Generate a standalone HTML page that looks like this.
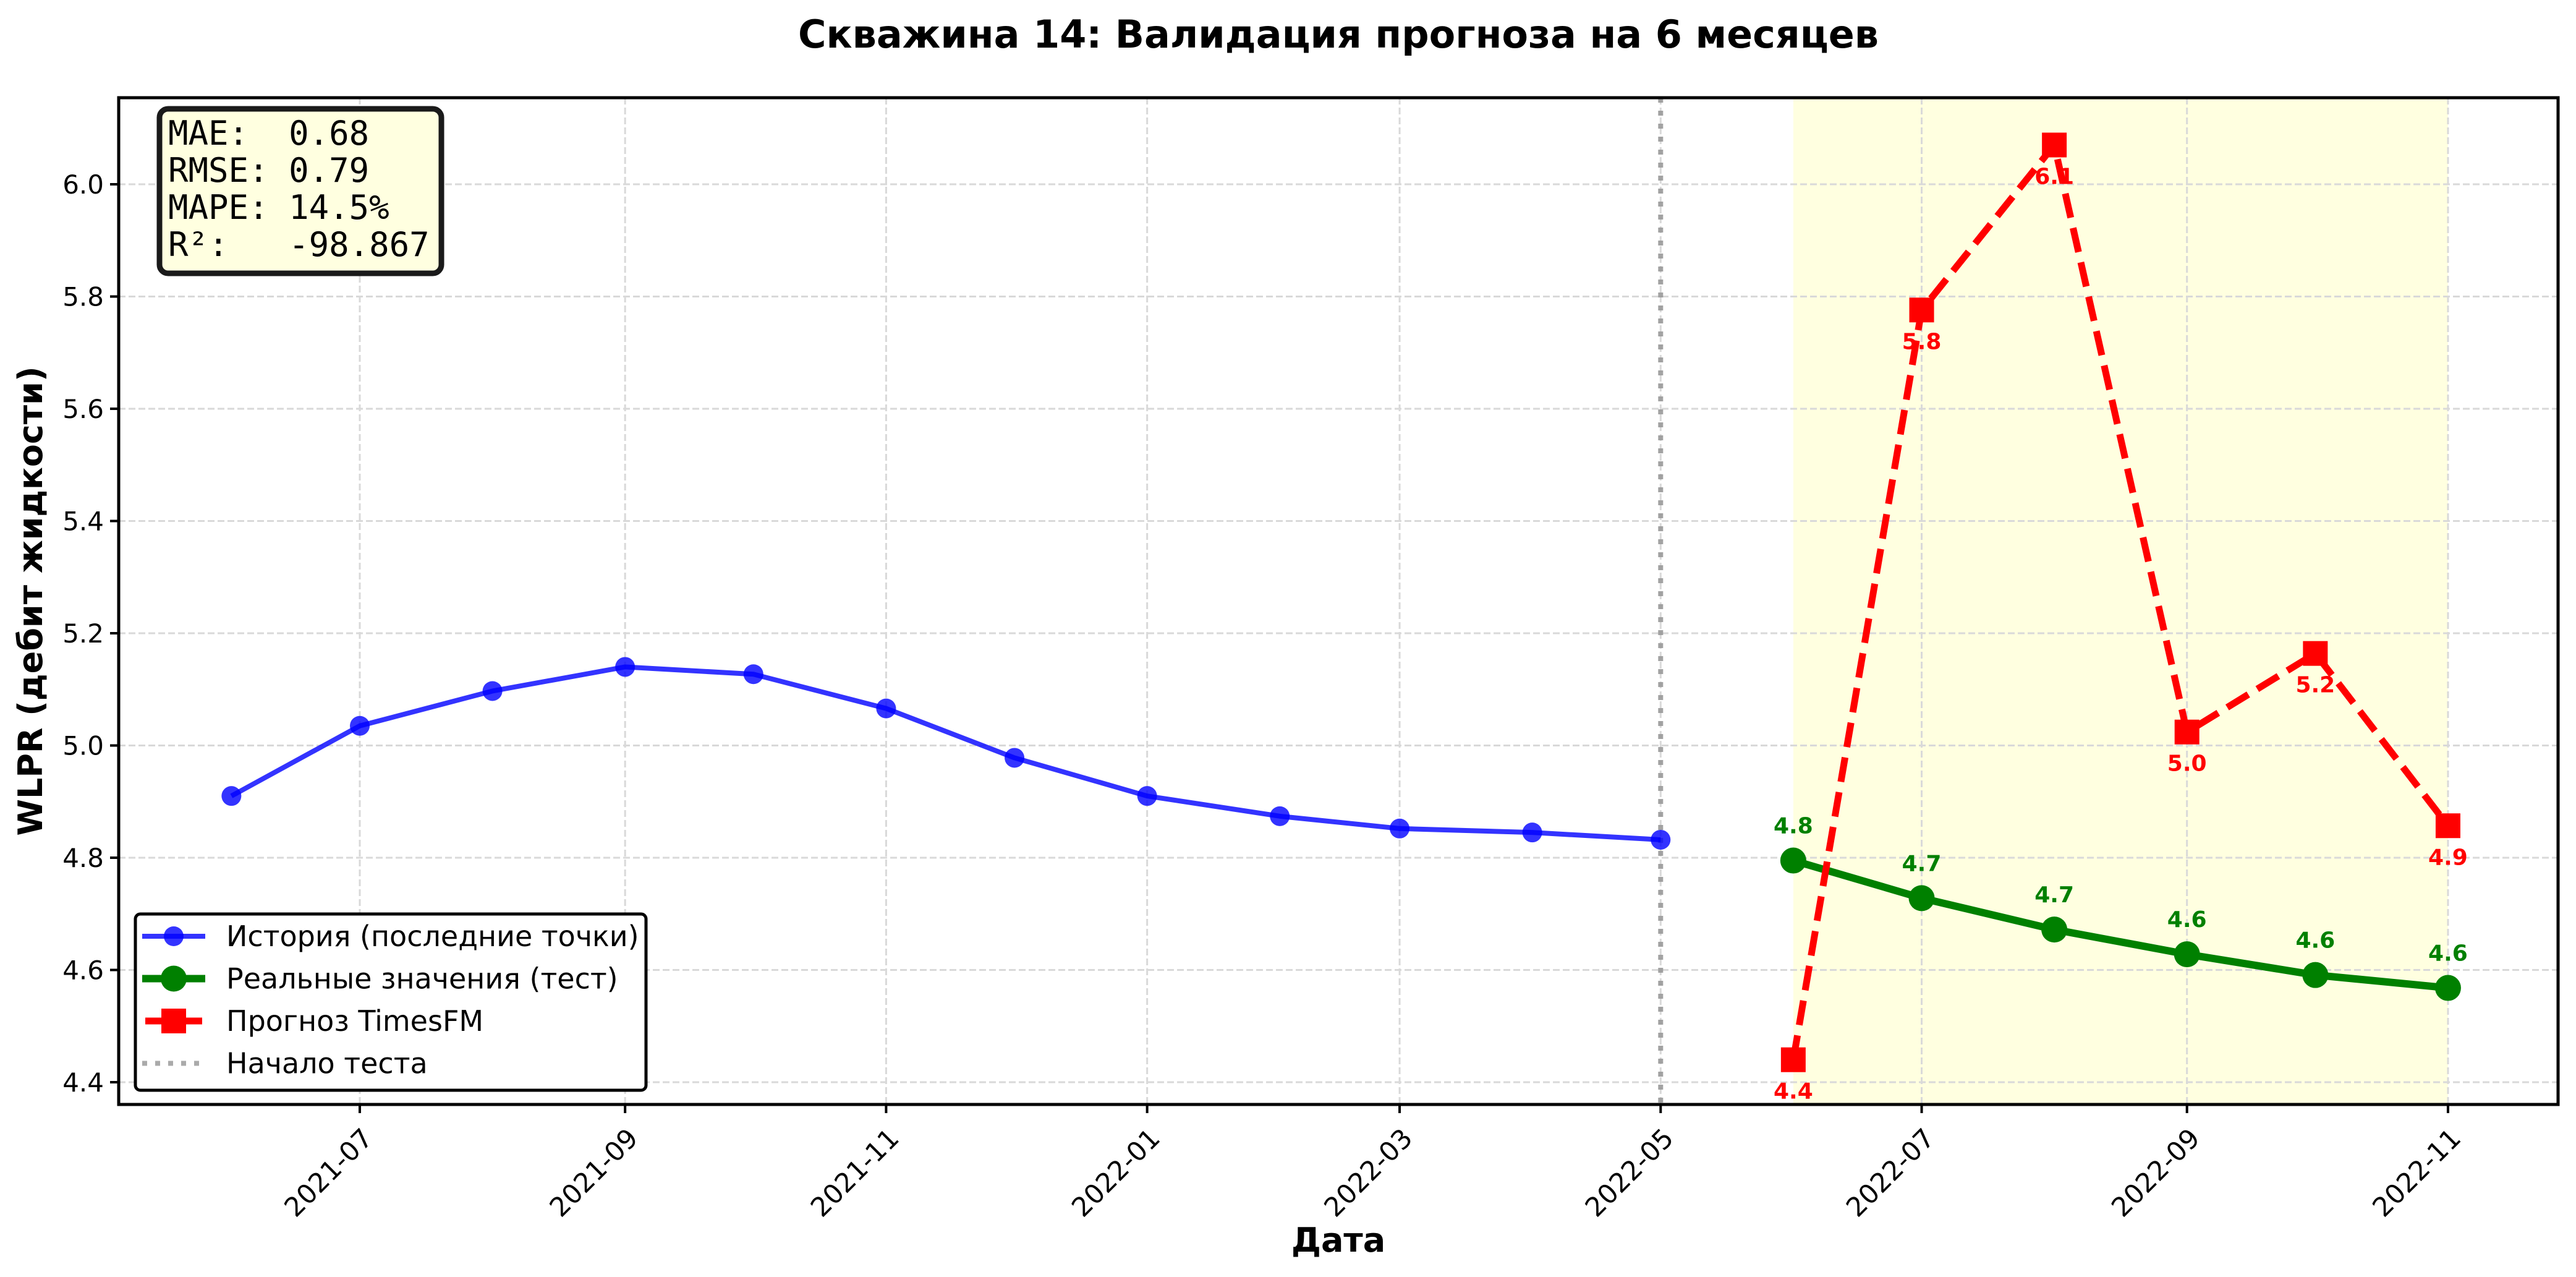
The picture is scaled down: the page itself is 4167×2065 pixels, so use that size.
<!DOCTYPE html>
<html><head><meta charset="utf-8">
<style>
html,body{margin:0;padding:0;background:#fff;}
svg{display:block;font-family:"DejaVu Sans","Liberation Sans",sans-serif;}
</style></head>
<body>
<svg id="chart" width="4167" height="2065" viewBox="0 0 4167 2065" xmlns="http://www.w3.org/2000/svg">
<rect width="4167" height="2065" fill="#fff"/>
<text x="2165" y="77" text-anchor="middle" font-size="62" font-weight="bold">Скважина 14: Валидация прогноза на 6 месяцев</text>
<g id="plot"></g>
<text x="2165" y="2024" text-anchor="middle" font-size="54" font-weight="bold">Дата</text>
<text transform="translate(68,972) rotate(-90)" text-anchor="middle" font-size="54" font-weight="bold">WLPR (дебит жидкости)</text>
</svg>
<script>
const histDates = ["2021-06-01","2021-07-01","2021-08-01","2021-09-01","2021-10-01","2021-11-01","2021-12-01","2022-01-01","2022-02-01","2022-03-01","2022-04-01","2022-05-01"];
const histValues = [4.91,5.035,5.097,5.14,5.127,5.066,4.978,4.91,4.874,4.852,4.845,4.832];
const testDates = ["2022-06-01","2022-07-01","2022-08-01","2022-09-01","2022-10-01","2022-11-01"];
const actualValues = [4.795,4.728,4.672,4.628,4.591,4.568];
const forecastValues = [4.44,5.776,6.07,5.024,5.164,4.857];
const xTickLabels = ["2021-07","2021-09","2021-11","2022-01","2022-03","2022-05","2022-07","2022-09","2022-11"];
const yTicks = [4.4,4.6,4.8,5.0,5.2,5.4,5.6,5.8,6.0];
const testStart = "2022-05-01";

const L=192,R=4138,T=158,B=1786;
const DAY=86400000;
const x0=Date.parse("2021-07-01"), px0=582, pxPerDay=6.922;
function X(d){return px0+(Date.parse(d.length===7?d+"-01":d)-x0)/DAY*pxPerDay;}
function Y(v){return 298+(6.0-v)*907.5;}
const NS="http://www.w3.org/2000/svg";
const g=document.getElementById('plot');
function el(tag,attrs,parent){const e=document.createElementNS(NS,tag);for(const k in attrs)e.setAttribute(k,attrs[k]);(parent||g).appendChild(e);return e;}

const defs=el('defs',{});
const cp=el('clipPath',{id:'clip'},defs);
el('rect',{x:L,y:T,width:R-L,height:B-T},cp);

const shade=el('rect',{x:X(testDates[0]),y:T,width:X(testDates[testDates.length-1])-X(testDates[0]),height:B-T,fill:'#ffffe0'});



yTicks.forEach(v=>{
  const ln=el('line',{x1:L,x2:R,y1:Y(v),y2:Y(v),stroke:'#d9d9d9','stroke-width':3,'stroke-dasharray':'11,5'});
  
  
});
xTickLabels.forEach(t=>{
  const ln=el('line',{x1:X(t),x2:X(t),y1:T,y2:B,stroke:'#d9d9d9','stroke-width':3,'stroke-dasharray':'11,5'});
  
  
});

const pg=el('g',{'clip-path':'url(#clip)'});
const vl=el('line',{x1:X(testStart),x2:X(testStart),y1:T,y2:B,stroke:'#999','stroke-width':8,'stroke-dasharray':'8,13','stroke-opacity':0.9},pg);



function pts(ds,vs){return ds.map((d,i)=>X(d)+','+Y(vs[i])).join(' ');}
const hl=el('polyline',{points:pts(histDates,histValues),fill:'none',stroke:'#0000ff','stroke-opacity':0.8,'stroke-width':8,'stroke-linejoin':'round'},pg);


histDates.forEach((d,i)=>{
  const c=el('circle',{cx:X(d),cy:Y(histValues[i]),r:16,fill:'#0000ff','fill-opacity':0.8},pg);
  
  
});
const al=el('polyline',{points:pts(testDates,actualValues),fill:'none',stroke:'#008000','stroke-width':12,'stroke-linejoin':'round'},pg);


testDates.forEach((d,i)=>{
  const c=el('circle',{cx:X(d),cy:Y(actualValues[i]),r:21,fill:'#008000'},pg);
  
  
});
const fl=el('polyline',{points:pts(testDates,forecastValues),fill:'none',stroke:'#ff0000','stroke-width':11,'stroke-dasharray':'40,17'},pg);


testDates.forEach((d,i)=>{
  const r=el('rect',{x:X(d)-20,y:Y(forecastValues[i])-20,width:40,height:40,fill:'#ff0000'},pg);
  
  
});
testDates.forEach((d,i)=>{
  const t=el('text',{x:X(d),y:Y(actualValues[i])-44,'text-anchor':'middle','font-size':36,'font-weight':'bold',fill:'#008000'});
  t.textContent=actualValues[i].toFixed(1);
  
  
  const t2=el('text',{x:X(d),y:Y(forecastValues[i])+63,'text-anchor':'middle','font-size':36,'font-weight':'bold',fill:'#ff0000'});
  t2.textContent=forecastValues[i].toFixed(1);
  
  
});

const fr=el('rect',{x:L,y:T,width:R-L,height:B-T,fill:'none',stroke:'#000','stroke-width':5});



yTicks.forEach(v=>{
  const tk=el('line',{x1:L-14,x2:L,y1:Y(v),y2:Y(v),stroke:'#000','stroke-width':4});
  
  
  const t=el('text',{x:L-24,y:Y(v)+15,'text-anchor':'end','font-size':42});
  t.textContent=v.toFixed(1);
  
  
});
xTickLabels.forEach(s=>{
  const x=X(s);
  const tk=el('line',{x1:x,x2:x,y1:B,y2:B+14,stroke:'#000','stroke-width':4});
  
  
  const t=el('text',{transform:`translate(${x+2},${B+36}) rotate(-45)`,'text-anchor':'end','font-size':43,dy:'0.7em'});
  t.textContent=s;
  
  
});

const sb=el('rect',{x:258,y:176,width:456,height:266,rx:14,fill:'#ffffe0',stroke:'#1a1a1a','stroke-width':9});


["MAE:  0.68","RMSE: 0.79","MAPE: 14.5%","R²:   -98.867"].forEach((s,i)=>{
  const t=el('text',{x:272,y:234+i*60,'font-size':54,'font-family':'"DejaVu Sans Mono","Liberation Mono",monospace','xml:space':'preserve'});
  t.style.whiteSpace='pre';
  t.textContent=s;
  
  
});

const lb=el('rect',{x:219,y:1478,width:826,height:285,rx:8,fill:'#fff',stroke:'#000','stroke-width':5});


const legendRows=[
 {label:'История (последние точки)',color:'#0000ff',op:0.8,w:8,m:'circle',r:16},
 {label:'Реальные значения (тест)',color:'#008000',op:1,w:12,m:'circle',r:21},
 {label:'Прогноз TimesFM',color:'#ff0000',op:1,w:11,m:'square'},
 {label:'Начало теста',color:'#aaa',op:1,w:8,m:'none'}
];
legendRows.forEach((row,i)=>{
  const cy=1514+i*68.5;
  const ln=el('line',{x1:230,x2:332,y1:cy,y2:cy,stroke:row.color,'stroke-opacity':row.op,'stroke-width':row.w});
  if(row.m==='none'){ln.setAttribute('stroke-dasharray','8,13');}
  
  
  if(row.m==='circle'){
    const c=el('circle',{cx:281,cy:cy,r:row.r,fill:row.color,'fill-opacity':row.op});
    
    
  } else if(row.m==='square'){
    ln.setAttribute('x1',235);ln.setAttribute('x2',327);
    const s=el('rect',{x:261,y:cy-20,width:40,height:40,fill:row.color});
    
    
  }
  const t=el('text',{x:366,y:cy+16,'font-size':46});
  t.textContent=row.label;
  
  
});
</script>
</body></html>
